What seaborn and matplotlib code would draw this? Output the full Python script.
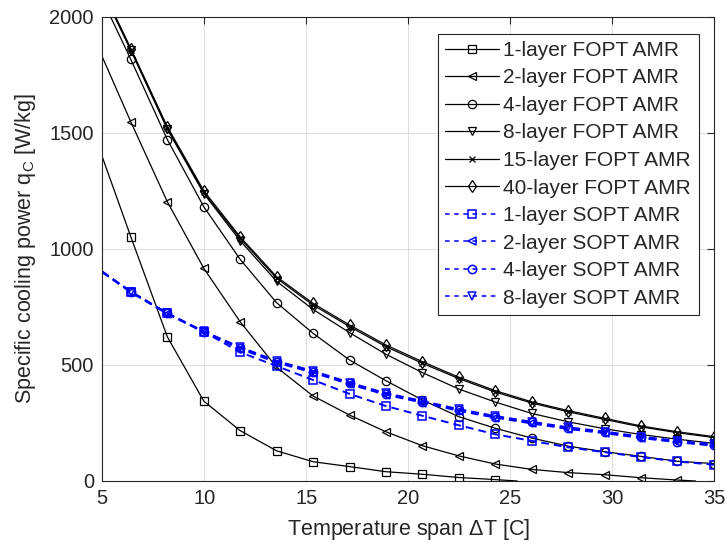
import numpy as np
import pandas as pd
import matplotlib
matplotlib.use("Agg")
import matplotlib.pyplot as plt
from matplotlib.lines import Line2D
import seaborn as sns

# Temperature spans at which markers are drawn; every curve also starts at 5 K
x_start = 5.0
x_marks = [6.4, 8.19, 9.98, 11.76, 13.55, 15.34, 17.13, 18.91, 20.7,
           22.49, 24.28, 26.06, 27.85, 29.64, 31.43, 33.21, 35.0]

# First-order phase transition (FOPT) regenerators, specific cooling power [W/kg]
fopt_1 = [1396, 1052, 621, 344, 217, 130, 83, 62, 40, 29, 15, 6]
fopt_1_end = 25.35            # span where the cooling power reaches zero
fopt_2 = [1827, 1547, 1203, 916, 686, 490, 366, 284, 212, 152, 108, 73,
          50, 36, 27, 14, 4]
fopt_2_end = 34.1
fopt_4 = [2075, 1816, 1471, 1181, 955, 768, 636, 521, 432, 349, 277, 227,
          185, 150, 126, 106, 85, 75]
fopt_8 = [2110, 1855, 1515, 1238, 1035, 860, 739, 639, 546, 467, 396, 340,
          291, 255, 225, 200, 180, 162]
fopt_15 = [2115, 1858, 1520, 1243, 1045, 873, 758, 665, 579, 507, 441, 383,
           336, 298, 265, 233, 208, 187]
fopt_40 = [2120, 1863, 1526, 1250, 1052, 880, 765, 672, 586, 514, 447, 389,
           341, 303, 270, 237, 212, 191]

# Second-order phase transition (SOPT) regenerators
sopt_1 = [901, 815, 722, 643, 555, 495, 435, 375, 323, 281, 240, 201,
          173, 145, 124, 103, 84, 70]
sopt_2 = [899, 813, 720, 641, 570, 510, 467, 417, 371, 338, 302, 273,
          248, 224, 206, 185, 167, 152]
sopt_4 = [901, 815, 722, 643, 574, 514, 471, 421, 375, 342, 306, 277,
          252, 228, 210, 188, 170, 155]
sopt_8 = [902, 816, 723, 644, 577, 517, 474, 424, 378, 345, 309, 280,
          255, 231, 213, 191, 173, 158]

labels = ["1-layer FOPT AMR", "2-layer FOPT AMR", "4-layer FOPT AMR",
          "8-layer FOPT AMR", "15-layer FOPT AMR", "40-layer FOPT AMR",
          "1-layer SOPT AMR", "2-layer SOPT AMR", "4-layer SOPT AMR",
          "8-layer SOPT AMR"]
markers = ["s", "<", "o", "v", "x", "d", "s", "<", "o", "v"]


def build_series(values, end=None):
    xs = [x_start] + x_marks[:len(values) - 1]
    ys = list(values)
    if end is not None:
        xs.append(end)
        ys.append(0.0)
    return pd.DataFrame({"span": xs, "power": ys})


series = [
    build_series(fopt_1, fopt_1_end),
    build_series(fopt_2, fopt_2_end),
    build_series(fopt_4),
    build_series(fopt_8),
    build_series(fopt_15),
    build_series(fopt_40),
    build_series(sopt_1),
    build_series(sopt_2),
    build_series(sopt_4),
    build_series(sopt_8),
]
has_end = [True, True] + [False] * 8

sns.set_theme(style="white")
plt.rcParams["font.family"] = ["Liberation Sans", "DejaVu Sans"]
plt.rcParams["mathtext.fontset"] = "custom"
plt.rcParams["mathtext.rm"] = "Liberation Sans"
plt.rcParams["mathtext.it"] = "Liberation Sans"

text_col = "#262626"
fig = plt.figure(figsize=(7.27, 5.43), dpi=100)
ax = fig.add_axes([0.1407, 0.1142, 0.9820 - 0.1407, 0.9692 - 0.1142])

blue = (0.0, 0.0, 1.0)
handles = []
for i, (df, lab, mk) in enumerate(zip(series, labels, markers)):
    is_sopt = i >= 6
    col = blue if is_sopt else "black"
    n = len(df)
    every = list(range(1, n - 1 if has_end[i] else n))
    style = dict(color=col, marker=mk, markersize=6 if mk != "x" else 5,
                 markerfacecolor="none", markeredgecolor=col,
                 markeredgewidth=1.1 if is_sopt else 0.9,
                 linewidth=1.4 if is_sopt else 0.9)
    if is_sopt:
        style["dashes"] = (4.0, 2.6)
    sns.lineplot(data=df, x="span", y="power", ax=ax, sort=False,
                 estimator=None, markevery=every, legend=False, **style)
    proxy = dict(style)
    proxy.pop("dashes", None)
    proxy["linewidth"] = 1.1 if is_sopt else 0.9
    h = Line2D([], [], linestyle="--" if is_sopt else "-", **proxy)
    if is_sopt:
        h.set_dashes((3.0, 3.0))
    handles.append(h)

ax.set_xlim(5, 35)
ax.set_ylim(0, 2000)
ax.set_xticks(np.arange(5, 36, 5))
ax.set_yticks(np.arange(0, 2001, 500))
ax.grid(True, color="#dedede", linewidth=0.7)
ax.set_axisbelow(True)
for s in ax.spines.values():
    s.set_visible(True)
    s.set_color(text_col)
    s.set_linewidth(0.8)
ax.tick_params(direction="in", length=5, width=0.8, colors=text_col,
               labelcolor=text_col, labelsize=14.5, top=True, right=True,
               pad=6)

ax.set_xlabel(r"Temperature span $\Delta$T [C]", fontsize=15.5,
              color=text_col, labelpad=6)
ax.set_ylabel(r"Specific cooling power q$_\mathrm{C}$ [W/kg]", fontsize=15.5,
              color=text_col, labelpad=8)

leg = ax.legend(handles, labels, loc="upper right",
                bbox_to_anchor=(698.5 / 727, 1 - 33.5 / 543),
                bbox_transform=fig.transFigure, borderaxespad=0,
                fontsize=15, handlelength=2.6, handletextpad=0.2,
                labelspacing=0.41, borderpad=0.35, fancybox=False,
                framealpha=1, edgecolor=text_col, numpoints=1)
leg.get_frame().set_linewidth(0.8)
for t in leg.get_texts():
    t.set_color(text_col)

fig.savefig("out.png", dpi=100)
